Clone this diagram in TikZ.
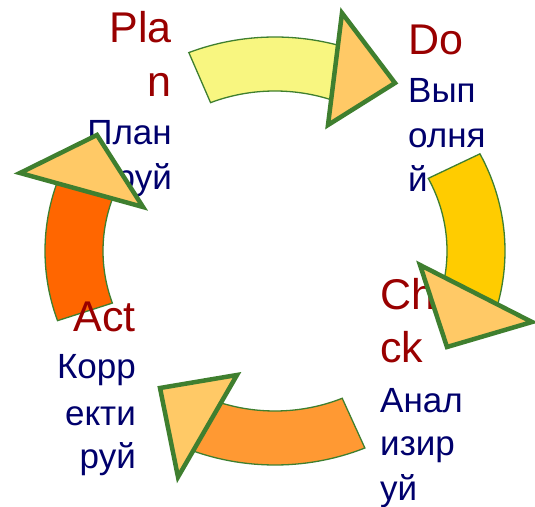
\documentclass[tikz,border=0pt]{standalone}
\usepackage{fontspec}
\setmainfont{Liberation Sans}
\definecolor{edgegreen}{RGB}{63,127,47}
\definecolor{cyellow}{RGB}{248,246,128}
\definecolor{cgold}{RGB}{255,204,0}
\definecolor{corange}{RGB}{255,153,51}
\definecolor{cdeep}{RGB}{255,102,0}
\definecolor{ctri}{RGB}{255,201,102}
\definecolor{tred}{RGB}{153,0,0}
\definecolor{tblue}{RGB}{0,0,108}
\begin{document}
\begin{tikzpicture}[x=1pt,y=1pt,
  bandstyle/.style={draw=edgegreen,line width=1.3pt},
  tristyle/.style={draw=edgegreen,fill=ctri,line width=4.5pt,line join=miter},
  enword/.style={inner sep=0pt,text=tred,font=\fontsize{43}{50}\selectfont},
  ruword/.style={inner sep=0pt,text=tblue,font=\fontsize{35}{42}\selectfont}]
\useasboundingbox (0,0) rectangle (535,506);
\coordinate (c) at (275,255);
% arcs
\filldraw[bandstyle,fill=cyellow] ([shift={(112:230 and 214)}]c) arc[start angle=112,end angle=70,x radius=230,y radius=214]
  -- ([shift={(70:172 and 160)}]c) arc[start angle=70,end angle=112,x radius=172,y radius=160] -- cycle;
\filldraw[bandstyle,fill=cgold] ([shift={(27:230 and 214)}]c) arc[start angle=27,end angle=-20,x radius=230,y radius=214]
  -- ([shift={(-20:172 and 160)}]c) arc[start angle=-20,end angle=27,x radius=172,y radius=160] -- cycle;
\filldraw[bandstyle,fill=corange] ([shift={(-67:230 and 214)}]c) arc[start angle=-67,end angle=-115,x radius=230,y radius=214]
  -- ([shift={(-115:172 and 160)}]c) arc[start angle=-115,end angle=-67,x radius=172,y radius=160] -- cycle;
\filldraw[bandstyle,fill=cdeep] ([shift={(199:230 and 214)}]c) arc[start angle=199,end angle=155,x radius=230,y radius=214]
  -- ([shift={(155:172 and 160)}]c) arc[start angle=155,end angle=199,x radius=172,y radius=160] -- cycle;
% texts
\node[enword,anchor=base east] (plan1) at (172,463) {Pla};
\node[enword,anchor=base east] (plan2) at (172,409) {n};
\node[ruword,anchor=base east] (plan3) at (172,361) {План};
\node[ruword,anchor=base east] (plan4) at (172,316) {руй};
\node[enword,anchor=base west] (do1) at (408,451) {Do};
\node[ruword,anchor=base west] (do2) at (408,403) {Вып};
\node[ruword,anchor=base west] (do3) at (408,358) {олня};
\node[ruword,anchor=base west] (do4) at (408,314) {й};
\node[enword,anchor=base west] (ch1) at (380,196) {Ch};
\node[enword,anchor=base west] (ch2) at (380,143) {ck};
\node[ruword,anchor=base west] (ch3) at (380,94) {Анал};
\node[ruword,anchor=base west] (ch4) at (380,51) {изир};
\node[ruword,anchor=base west] (ch5) at (380,6) {уй};
\node[enword,anchor=base east] (act1) at (136,174) {Act};
\node[ruword,anchor=base east] (act2) at (136,128) {Корр};
\node[ruword,anchor=base east] (act3) at (136,81) {екти};
\node[ruword,anchor=base east] (act4) at (136,38) {руй};
% arrowheads
\draw[tristyle] (342,493) -- (395,423) -- (328,381) -- cycle;
\draw[tristyle] (420,241) -- (532,184) -- (447,159) -- cycle;
\draw[tristyle] (237,131) -- (160,118) -- (178,29) -- cycle;
\draw[tristyle] (97,371) -- (20,333) -- (143,299) -- cycle;
\end{tikzpicture}
\end{document}
